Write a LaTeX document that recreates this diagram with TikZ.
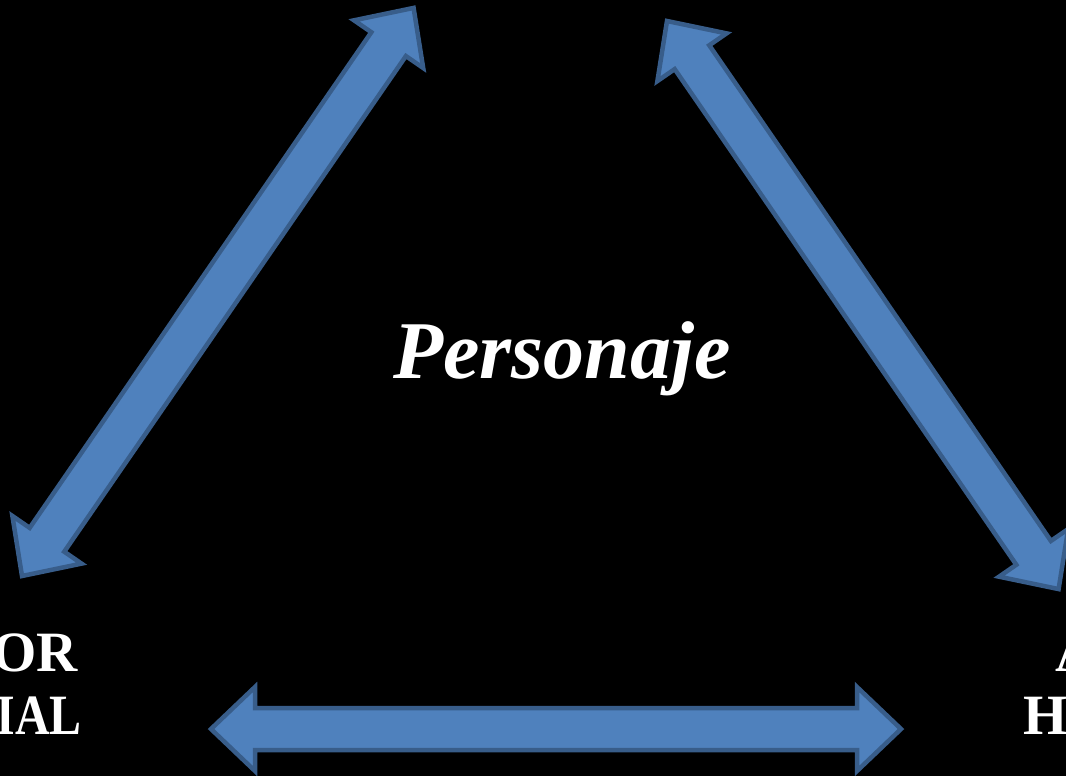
\documentclass[tikz,border=0pt]{standalone}
\usepackage{fontspec}
\setmainfont{Liberation Serif}
\definecolor{arrowfill}{HTML}{4F81BD}
\definecolor{arrowline}{HTML}{385D8A}
\tikzset{
  x=1pt, y=1pt,
  dblarrow/.style={fill=arrowfill, draw=arrowline, line width=4.5pt, line join=miter},
  bigtext/.style={text=white, inner sep=0pt, font=\bfseries\itshape\fontsize{82}{90}\selectfont},
  sidetext/.style={text=white, inner sep=0pt, font=\bfseries\fontsize{57}{62}\selectfont}
}
% #1 start, #2 angle, #3 length
\newcommand{\mydblarrow}[3]{%
  \begin{scope}[shift={#1}, rotate=#2]
    \path[dblarrow] (0,0) -- (44,42) -- (44,21) -- (#3-44,21) -- (#3-44,42) -- (#3,0)
      -- (#3-44,-42) -- (#3-44,-21) -- (44,-21) -- (44,-42) -- cycle;
  \end{scope}}
\begin{document}
\begin{tikzpicture}
  \useasboundingbox (0,0) rectangle (1066,-776);
  \clip (0,0) rectangle (1066,-776);
  \fill[black] (0,0) rectangle (1066,-776);
  % endpoints
  \coordinate (a1s) at (22,-576);
  \coordinate (a1e) at (413,-7);
  \coordinate (a2s) at (667,-21);
  \coordinate (a2e) at (1059,-590);
  \coordinate (a3s) at (211,-729);
  \coordinate (a3e) at (901,-729);
  \mydblarrow{(a1s)}{55.42}{690}
  \mydblarrow{(a2s)}{-55.42}{690}
  \mydblarrow{(a3s)}{0}{690}
  \node[bigtext, anchor=base] (pers) at (562,-378) {Personaje};
  \node[sidetext, anchor=base east] (l1) at (78,-671) {OR};
  \node[sidetext, anchor=base east] (l2) at (82,-734) {\scalebox{0.84}[1]{IAL}};
  \node[sidetext, anchor=base west] (r1) at (1055,-671) {A};
  \node[sidetext, anchor=base west] (r2) at (1023,-734) {H};
\end{tikzpicture}
\end{document}
